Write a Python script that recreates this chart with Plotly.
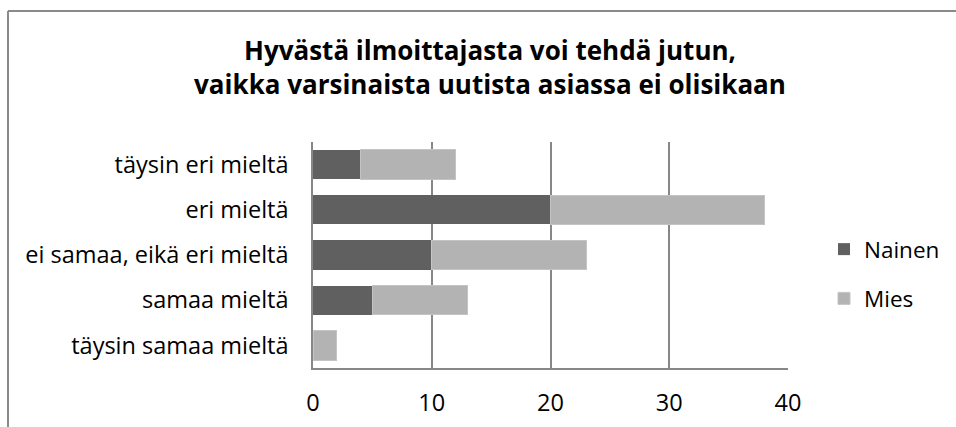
import plotly.graph_objects as go

categories = ["täysin eri mieltä", "eri mieltä", "ei samaa, eikä eri mieltä",
              "samaa mieltä", "täysin samaa mieltä"]
nainen = [4, 20, 10, 5, 0]
mies = [8, 18, 13, 8, 2]
x_ticks = [0, 10, 20, 30, 40]
title_text = "Hyvästä ilmoittajasta voi tehdä jutun,<br>vaikka varsinaista uutista asiassa ei olisikaan"

FONT = "Open Sans, Liberation Sans, sans-serif"

fig = go.Figure()
fig.add_trace(go.Bar(y=categories, x=nainen, name="Nainen", orientation="h",
                     marker=dict(color="#606060", line=dict(width=0)),
                     legendgroup="a"))
fig.add_trace(go.Bar(y=categories, x=mies, name="Mies", orientation="h",
                     marker=dict(color="#b3b3b3", line=dict(width=1, color="#c4c4c4")),
                     legendgroup="b"))

fig.update_layout(
    width=956, height=427,
    margin=dict(l=313, r=168, t=142, b=59, autoexpand=False),
    paper_bgcolor="white", plot_bgcolor="white",
    barmode="stack", bargap=0.35,
    font=dict(family=FONT, size=23.5, color="black"),
    title=dict(text=title_text, x=490 / 956, xref="container", xanchor="center",
               y=1 - 60/427, yanchor="middle",
               font=dict(family=FONT, size=26, color="black", weight="bold")),
    showlegend=True,
    legend=dict(xref="container", yref="container",
                x=824 / 956, y=1 - 274 / 427, xanchor="left", yanchor="middle",
                traceorder="grouped", tracegroupgap=17,
                font=dict(family=FONT, size=22.5, color="black"),
                itemwidth=30, bgcolor="rgba(0,0,0,0)"),
    xaxis=dict(range=[0, 40], tickvals=x_ticks, showgrid=True, gridcolor="#878787",
               gridwidth=1.5, showline=True, linecolor="#878787", linewidth=1.5,
               ticks="", zeroline=False, tickfont=dict(size=23.5), ticklabelstandoff=13,
               fixedrange=True, automargin=False),
    yaxis=dict(categoryorder="array", categoryarray=categories, autorange="reversed",
               showline=True, linecolor="#878787", linewidth=1.5, ticks="",
               tickfont=dict(size=23.5), ticklabelstandoff=18, showgrid=False,
               fixedrange=True, automargin=False),
    shapes=[
        dict(type="line", xref="paper", yref="paper",
             x0=(8 - 313) / 475, x1=(8 - 313) / 475, y0=(368 - 11) / 226, y1=(368 - 430) / 226,
             line=dict(color="#8a8a8a", width=2)),
        dict(type="line", xref="paper", yref="paper",
             x0=(8 - 313) / 475, x1=(960 - 313) / 475, y0=(368 - 11) / 226, y1=(368 - 11) / 226,
             line=dict(color="#8a8a8a", width=2)),
    ],
)

fig.write_html("out.html", config={"displayModeBar": False},
               post_script="document.body.style.margin='0';")
